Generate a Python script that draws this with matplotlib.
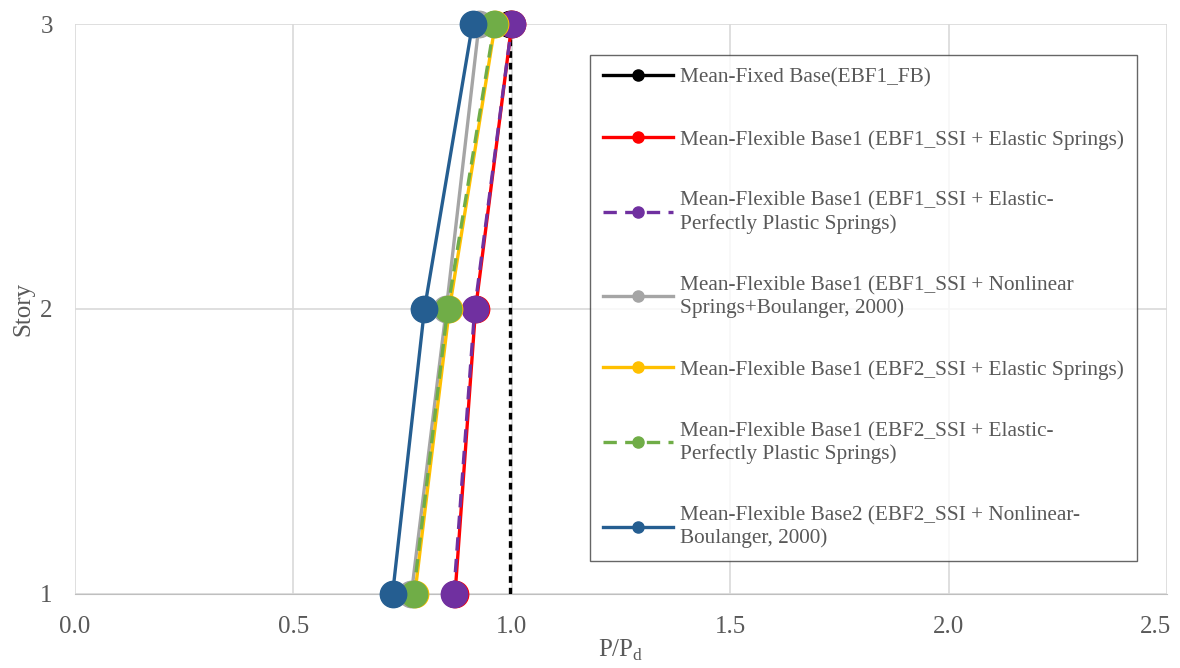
import numpy as np
import matplotlib.pyplot as plt
import matplotlib.transforms as mtransforms
from matplotlib.lines import Line2D

plt.rcParams['font.family'] = ['Liberation Serif', 'DejaVu Serif']

stories = [1, 2, 3]
fixed_base = [0.995, 0.995, 0.995]
ebf1_elastic = [0.87, 0.917, 1.0]
ebf1_epp = [0.867, 0.915, 1.0]
ebf1_nonlinear = [0.77, 0.85, 0.925]
ebf2_elastic = [0.778, 0.857, 0.962]
ebf2_epp = [0.775, 0.853, 0.96]
ebf2_nonlinear = [0.727, 0.80, 0.91]

labels = ["Mean-Fixed Base(EBF1_FB)",
          "Mean-Flexible Base1 (EBF1_SSI + Elastic Springs)",
          "Mean-Flexible Base1 (EBF1_SSI + Elastic-\nPerfectly Plastic Springs)",
          "Mean-Flexible Base1 (EBF1_SSI + Nonlinear\nSprings+Boulanger, 2000)",
          "Mean-Flexible Base1 (EBF2_SSI + Elastic Springs)",
          "Mean-Flexible Base1 (EBF2_SSI + Elastic-\nPerfectly Plastic Springs)",
          "Mean-Flexible Base2 (EBF2_SSI + Nonlinear-\nBoulanger, 2000)"]

series = [ebf1_elastic, ebf1_epp, ebf1_nonlinear, ebf2_elastic, ebf2_epp, ebf2_nonlinear]
colors = ['#FF0000', '#7030A0', '#A5A5A5', '#FFC000', '#70AD47', '#255E91']
styles = ['-', (0, (4, 2.5)), '-', '-', (0, (4, 2.5)), '-']

fig = plt.figure(figsize=(11.8, 6.68), dpi=100)
ax = fig.add_axes([0.0636, 0.111, 0.9254, 0.853])

txt = '#595959'
handles = []
# fixed base: dashed vertical, marker only at the top
ax.plot(fixed_base, stories, color='black', ls=(0, (2, 1.5)), lw=2.4, zorder=3)
ax.plot(fixed_base[2:], stories[2:], 'o', color='black', ms=19, clip_on=False, zorder=3)
handles.append(Line2D([], [], color='black', lw=2.4, marker='o', ms=8))

for i, (vals, c, s) in enumerate(zip(series, colors, styles)):
    ax.plot(vals, stories, color=c, ls=s, lw=2.4, zorder=4 + i)
    ax.plot(vals, stories, 'o', color=c, ms=19, clip_on=False, zorder=4 + i)
    handles.append(Line2D([], [], color=c, ls=s, lw=2.4, marker='o', ms=8))

ax.set_xlim(0, 2.5)
ax.set_ylim(1, 3)
ax.set_xticks(np.arange(0, 2.51, 0.5))
ax.set_xticklabels(['%.1f' % v for v in np.arange(0, 2.51, 0.5)])
ax.set_yticks([1, 2, 3])
ax.grid(True, color='#D9D9D9', lw=1.2)
ax.set_axisbelow(True)
for sp in ['top', 'right', 'left']:
    ax.spines[sp].set_visible(False)
ax.spines['bottom'].set_color('#BFBFBF')
ax.tick_params(axis='x', length=0, labelsize=18, colors=txt, pad=16)
ax.tick_params(axis='y', length=0, labelsize=18, colors=txt, pad=16)
ax.set_xlabel('P/P$_\\mathregular{d}$', fontsize=18, color=txt, labelpad=0)
ax.set_ylabel('Story', fontsize=18, color=txt, labelpad=4)

# keep the last x label inside the figure, like Excel does
last = ax.get_xticklabels()[-1]
last.set_transform(last.get_transform() +
                   mtransforms.ScaledTranslation(-12 / 100, 0, fig.dpi_scale_trans))

leg = ax.legend(handles, labels, loc='upper left', bbox_to_anchor=(0.4716, 0.9456),
                fontsize=15.3, labelcolor=txt, frameon=True, fancybox=False,
                edgecolor='#404040', labelspacing=1.98, handlelength=3.3,
                borderpad=0.6, borderaxespad=0, handletextpad=0.33)
leg.get_frame().set_linewidth(1.0)
leg.set_zorder(20)

fig.savefig('out.png', dpi=100)
